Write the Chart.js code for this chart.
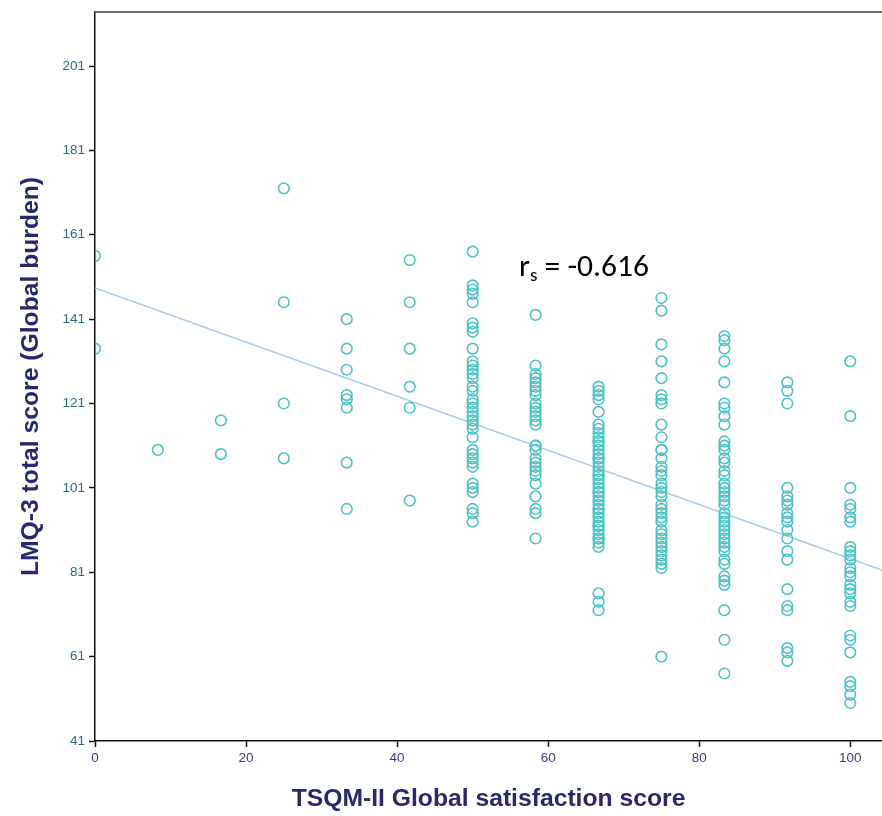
<!DOCTYPE html>
<html>
<head>
<meta charset="utf-8">
<script src="https://cdn.jsdelivr.net/npm/chart.js@4/dist/chart.umd.min.js"></script>
<style>
  html, body { margin: 0; padding: 0; background: #ffffff; }
  canvas { display: block; }
</style>
</head>
<body>
<canvas id="chart" width="882" height="816"></canvas>
<script>
// TSQM-II global satisfaction levels (x) and the LMQ-3 totals recorded at each level (y)
const satisfactionLevels = [0, 8.33, 16.67, 25, 33.33, 41.67, 50, 58.33, 66.67, 75, 83.33, 91.67, 100];

const burdenAt0 = [156, 134];
const burdenAt8 = [110];
const burdenAt17 = [117, 109];
const burdenAt25 = [172, 145, 121, 108];
const burdenAt33 = [141, 134, 129, 123, 122, 120, 107, 96];
const burdenAt42 = [155, 145, 134, 125, 120, 98];
const burdenAt50 = [157, 149, 148, 147, 145, 140, 139, 138, 134, 131, 130, 129, 128, 127, 125, 124,
  122, 121, 120, 119, 118, 117, 116, 115, 113, 110, 109, 108, 107, 106, 102, 101, 100, 96, 95, 93];
const burdenAt58 = [142, 130, 128, 127, 126, 125, 124, 123, 121, 120, 119, 118, 117, 116, 111, 111,
  110, 108, 107, 106, 105, 104, 102, 99, 96, 95, 89];
const burdenAt67 = [125, 124, 123, 122, 119, 116, 115, 114, 113, 112, 112, 111, 110, 109, 108, 108,
  107, 106, 105, 104, 104, 103, 102, 101, 100, 100, 99, 98, 97, 96, 96, 95, 94, 93, 92, 92, 91, 90,
  89, 89, 88, 87, 76, 74, 72];
const burdenAt75 = [146, 143, 135, 131, 127, 123, 122, 121, 116, 113, 110, 110, 108, 106, 105, 104,
  102, 101, 100, 99, 97, 96, 95, 94, 93, 91, 90, 89, 88, 87, 86, 85, 84, 83, 82, 61];
const burdenAt83 = [137, 136, 134, 131, 126, 121, 120, 118, 116, 112, 111, 110, 108, 107, 105, 104,
  102, 101, 100, 99, 98, 97, 95, 94, 93, 92, 91, 90, 89, 88, 87, 86, 84, 83, 80, 79, 78, 72, 65, 57];
const burdenAt92 = [126, 124, 121, 101, 99, 98, 97, 95, 94, 93, 91, 89, 86, 84, 77, 73, 72, 63, 62, 60];
const burdenAt100 = [131, 118, 101, 97, 96, 94, 93, 87, 86, 85, 84, 82, 81, 80, 78, 77, 76, 74, 73,
  66, 65, 62, 55, 54, 52, 50];

const burdenByLevel = [burdenAt0, burdenAt8, burdenAt17, burdenAt25, burdenAt33, burdenAt42, burdenAt50,
  burdenAt58, burdenAt67, burdenAt75, burdenAt83, burdenAt92, burdenAt100];

// Axis tick labels
const xTickValues = [0, 20, 40, 60, 80, 100];
const yTickValues = [41, 61, 81, 101, 121, 141, 161, 181, 201];

// Least-squares fit line and Spearman correlation
const fitIntercept = 148.4;
const fitSlope = -0.642;
const spearmanRho = -0.616;

// ---- build chart data ----
const X_MIN = 0, X_MAX = 104.2, Y_MIN = 41, Y_MAX = 213.8;

const scatterPoints = [];
satisfactionLevels.forEach((x, i) => {
  burdenByLevel[i].forEach(y => scatterPoints.push({ x: x, y: y }));
});

const fitLine = [
  { x: X_MIN, y: fitIntercept + fitSlope * X_MIN },
  { x: X_MAX, y: fitIntercept + fitSlope * X_MAX }
];

const tickFont = { family: "'Liberation Sans Narrow', 'Liberation Sans', Arial, sans-serif", size: 13.5 };
const titleFont = { family: "'Liberation Sans', Arial, sans-serif", size: 24.7, weight: 'bold' };

// Frame line along the top of the plot area
const topFrame = {
  id: 'topFrame',
  afterDatasetsDraw(chart) {
    const { ctx, chartArea } = chart;
    ctx.save();
    ctx.strokeStyle = '#6f6f6f';
    ctx.lineWidth = 2;
    ctx.beginPath();
    ctx.moveTo(chartArea.left, chartArea.top);
    ctx.lineTo(chartArea.right, chartArea.top);
    ctx.stroke();
    ctx.restore();
  }
};

// Correlation label "r_s = -0.616"
const rhoLabel = {
  id: 'rhoLabel',
  afterDatasetsDraw(chart) {
    const { ctx, scales } = chart;
    const px = scales.x.getPixelForValue(56.15);
    const py = scales.y.getPixelForValue(151.2);
    const family = "Carlito, Lato, 'Open Sans', sans-serif";
    ctx.save();
    ctx.fillStyle = '#000000';
    ctx.textBaseline = 'alphabetic';
    ctx.textAlign = 'left';
    ctx.font = `31.5px ${family}`;
    ctx.fillText('r', px, py);
    let cx = px + ctx.measureText('r').width;
    ctx.font = `19px ${family}`;
    ctx.fillText('s', cx, py + 5);
    cx += ctx.measureText('s').width;
    ctx.font = `31.5px ${family}`;
    ctx.fillText(' = ' + spearmanRho.toFixed(3), cx, py);
    ctx.restore();
  }
};

new Chart(document.getElementById('chart'), {
  data: {
    datasets: [
      {
        type: 'scatter',
        data: scatterPoints,
        pointStyle: 'circle',
        pointRadius: 5.3,
        pointHoverRadius: 5.3,
        pointBorderWidth: 1.6,
        pointBorderColor: '#4fc4c4',
        pointBackgroundColor: 'rgba(0,0,0,0)',
        clip: 0,
        order: 1
      },
      {
        type: 'line',
        data: fitLine,
        borderColor: '#a9c8ee',
        borderWidth: 1.5,
        pointRadius: 0,
        fill: false,
        tension: 0,
        clip: 0,
        order: 2
      }
    ]
  },
  options: {
    responsive: false,
    animation: false,
    events: [],
    layout: { autoPadding: false, padding: { top: 12, left: 0, right: 0, bottom: 0 } },
    plugins: { legend: { display: false }, tooltip: { enabled: false } },
    scales: {
      x: {
        type: 'linear',
        min: X_MIN,
        max: X_MAX,
        afterBuildTicks: s => { s.ticks = xTickValues.map(v => ({ value: v })); },
        afterFit: s => { s.height = 75; s.paddingLeft = 0; s.paddingRight = 0; },
        grid: { drawOnChartArea: false, drawTicks: true, tickLength: 6, tickColor: '#111111', tickWidth: 1.5 },
        border: { display: true, color: '#111111', width: 1.5 },
        ticks: { color: '#3d3d82', font: tickFont, padding: 3, maxRotation: 0, autoSkip: false },
        title: {
          display: true,
          text: 'TSQM-II Global satisfaction score',
          color: '#28286c',
          font: titleFont,
          padding: { top: 0, bottom: 2 }
        }
      },
      y: {
        type: 'linear',
        min: Y_MIN,
        max: Y_MAX,
        afterBuildTicks: s => { s.ticks = yTickValues.map(v => ({ value: v })); },
        afterFit: s => { s.width = 95; s.paddingTop = 0; s.paddingBottom = 0; },
        grid: { drawOnChartArea: false, drawTicks: true, tickLength: 6, tickColor: '#111111', tickWidth: 1.5 },
        border: { display: true, color: '#111111', width: 1.5 },
        ticks: { color: '#2d6b84', font: tickFont, padding: 4, autoSkip: false },
        title: {
          display: true,
          text: 'LMQ-3 total score (Global burden)',
          color: '#28286c',
          font: titleFont,
          padding: { top: 16, bottom: 0 }
        }
      }
    }
  },
  plugins: [topFrame, rhoLabel]
});
</script>
</body>
</html>
